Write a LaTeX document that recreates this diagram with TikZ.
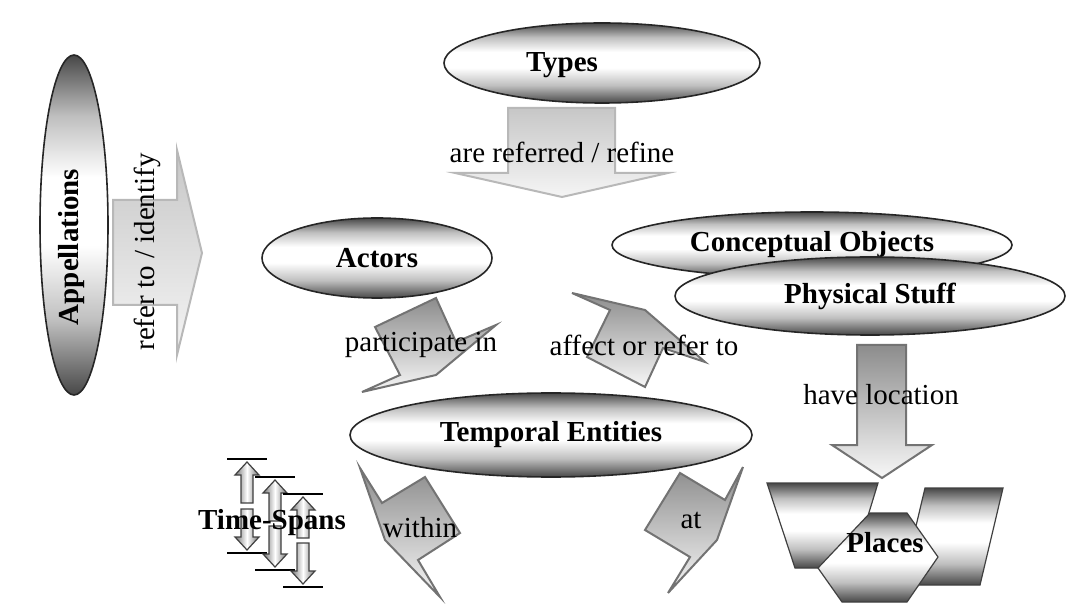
\documentclass[tikz,border=0pt]{standalone}
\usepackage{fontspec}
\setmainfont{Liberation Serif}
\usetikzlibrary{shapes.geometric}
\pgfdeclareverticalshading{blobshade}{100bp}{color(0bp)=(black!72); color(25bp)=(black!72); color(36bp)=(black!25); color(47bp)=(white); color(57bp)=(white); color(66bp)=(black!25); color(75bp)=(black!72); color(100bp)=(black!72)}
\begin{document}
\begin{tikzpicture}[x=0.5pt,y=-0.5pt,
  every node/.style={font=\fontsize{14.5}{17}\selectfont},
  blob/.style={ellipse,draw=black!85,line width=0.8pt,inner sep=0pt,shading=blobshade,font=\fontsize{14.5}{17}\selectfont\bfseries},
  title/.style={font=\fontsize{14.5}{17}\selectfont\bfseries},
  pale/.style={draw=black!28,line width=1pt,top color=black!22,bottom color=black!4},
  bolt/.style={draw=black!55,line width=1pt,top color=black!45,bottom color=black!3},
  tile/.style={draw=black!75,line width=0.6pt,shading=blobshade},
  spanarrow/.style={draw=black!75,line width=0.6pt,left color=black!55,right color=black!55,middle color=white}]
\useasboundingbox (0,0) rectangle (1085,608);
% class ellipses
\node[blob,minimum width=158pt,minimum height=40pt] (types) at (602,63) {};
\node[title] (types-t) at (562,65) {Types};
\node[blob,minimum width=34pt,minimum height=170pt] (appel) at (74,225) {};
\node[title,rotate=90] (appel-t) at (72,247) {Appellations};
\node[blob,minimum width=115pt,minimum height=40pt] (actors) at (377,258) {Actors};
\node[blob,minimum width=200pt,minimum height=33pt] (concept) at (812,245) {Conceptual Objects};
\node[blob,minimum width=195pt,minimum height=39pt] (phys) at (870,296) {Physical Stuff};
\node[blob,minimum width=201pt,minimum height=42pt] (temporal) at (551,435) {Temporal Entities};
% straight block arrows
\draw[pale] (113,200) -- (177,200) -- (177,150) -- (202,253) -- (177,355) -- (177,305) -- (113,305) -- cycle;
\node[rotate=90] (refer) at (147,252) {refer to / identify};
\draw[pale] (508,108) -- (615,108) -- (615,173) -- (668,173) -- (562,197) -- (455,173) -- (508,173) -- cycle;
\node (refine) at (562,152) {are referred / refine};
\draw[bolt] (857,345) -- (906,345) -- (906,445) -- (932,445) -- (882,478) -- (832,445) -- (857,445) -- cycle;
\node (location) at (881,395) {have location};
% bent arrows
\draw[bolt] (375,327) -- (436,298) -- (456,342) -- (496,325) -- (436,375) -- (362,392) -- (400,375) -- cycle;
\node (part) at (421,345) {participate in};
\draw[bolt] (572,293) -- (645,310) -- (705,362) -- (663,348) -- (645,387) -- (587,357) -- (610,310) -- cycle;
\node (affect) at (644,345) {affect or refer to};
\draw[bolt] (360,468) -- (382,503) -- (425,477) -- (460,533) -- (418,560) -- (440,597) -- (385,540) -- cycle;
\node (within) at (420,528) {within};
\draw[bolt] (743,467) -- (725,500) -- (680,473) -- (645,530) -- (690,557) -- (668,593) -- (717,540) -- cycle;
\node (at) at (691,520) {at};
% time-span icon
\foreach \cx/\yt/\yb in {247/459/553,275/477/570,303/494/587}{
  \draw[line width=1pt] (\cx-20,\yt) -- (\cx+20,\yt);
  \draw[line width=1pt] (\cx-20,\yb) -- (\cx+20,\yb);
  \draw[spanarrow] (\cx,\yt+3) -- (\cx+12,\yt+16) -- (\cx+6,\yt+16) -- (\cx+6,\yt+44) -- (\cx-6,\yt+44) -- (\cx-6,\yt+16) -- (\cx-12,\yt+16) -- cycle;
  \draw[spanarrow] (\cx,\yb-3) -- (\cx+12,\yb-16) -- (\cx+6,\yb-16) -- (\cx+6,\yb-44) -- (\cx-6,\yb-44) -- (\cx-6,\yb-16) -- (\cx-12,\yb-16) -- cycle;
}
\node[title] (spans) at (272,523) {Time-Spans};
% places tiles
\draw[tile] (767,483) -- (878,483) -- (852,568) -- (795,568) -- cycle;
\draw[tile] (925,488) -- (1003,488) -- (980,585) -- (902,585) -- cycle;
\draw[tile] (870,513) -- (907,513) -- (938,557) -- (907,602) -- (842,602) -- (818,568) -- cycle;
\node[title] (places) at (885,543) {Places};
\end{tikzpicture}
\end{document}
